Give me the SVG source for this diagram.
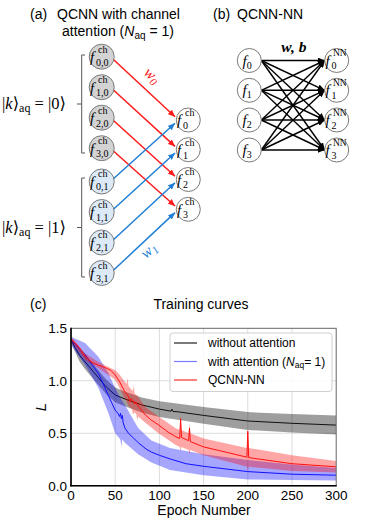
<svg xmlns="http://www.w3.org/2000/svg" width="374" height="521" viewBox="0 0 374 521">
<style>
.t{font-family:"Liberation Sans",Arial,sans-serif;fill:#000}
.m{font-family:"Liberation Serif","DejaVu Serif",serif;fill:#000}
.i{font-style:italic}
.ng{fill:#d3d3d3;stroke:#7a7a7a;stroke-width:1}
.nb{fill:#dce9f6;stroke:#7a7a7a;stroke-width:1}
.nw{fill:#fff;stroke:#7a7a7a;stroke-width:1}
.red{stroke:#ff1a1a;stroke-width:1.5;fill:none}
.blu{stroke:#1f7fd6;stroke-width:1.5;fill:none}
.blk{stroke:#000;stroke-width:1.4;fill:none}
.br{stroke:#555;stroke-width:1;fill:none}
.grid{stroke:#dcdcdc;stroke-width:1}
.tick{font-family:"Liberation Sans",Arial,sans-serif;font-size:13.5px;fill:#000}
</style>
<defs>
<marker id="ar" markerUnits="userSpaceOnUse" markerWidth="8" markerHeight="6" refX="7" refY="3" orient="auto"><path d="M0,0 L7,3 L0,6 z" fill="#ff1a1a"/></marker>
<marker id="ab" markerUnits="userSpaceOnUse" markerWidth="8" markerHeight="6" refX="7" refY="3" orient="auto"><path d="M0,0 L7,3 L0,6 z" fill="#1f7fd6"/></marker>
<marker id="ak" markerUnits="userSpaceOnUse" markerWidth="8" markerHeight="6" refX="7" refY="3" orient="auto"><path d="M0,0 L7,3 L0,6 z" fill="#000"/></marker>
<clipPath id="plot"><rect x="71" y="328.3" width="265.2" height="157.4"/></clipPath>
</defs>

<!-- Panel titles -->
<text class="t" x="30" y="19" font-size="14">(a)</text>
<text class="t" x="57" y="19" font-size="14">QCNN with channel</text>
<text class="t" x="62" y="36" font-size="14">attention (<tspan font-style="italic">N</tspan><tspan font-size="10" dy="3">aq</tspan><tspan dy="-3"> = 1)</tspan></text>
<text class="t" x="213" y="19" font-size="14">(b)</text>
<text class="t" x="237" y="19" font-size="14">QCNN-NN</text>

<!-- Brackets and group labels -->
<g id="group0">
<path class="br" d="M85,55 H81.7 V153 H85 M81.7,104 H77"/>
<text class="m" x="2" y="109" font-size="16.5">|<tspan font-style="italic">k</tspan>⟩<tspan font-size="12" dy="3">aq</tspan><tspan dy="-3"> = |0⟩</tspan></text>
</g>
<g id="group1">
<path class="br" d="M85,178 H81.7 V277 H85 M81.7,227.5 H77"/>
<text class="m" x="2" y="233" font-size="16.5">|<tspan font-style="italic">k</tspan>⟩<tspan font-size="12" dy="3">aq</tspan><tspan dy="-3"> = |1⟩</tspan></text>
</g>

<!-- Connectors -->
<g id="connectors">
<line class="red" x1="113.7" y1="59.7" x2="175" y2="116.7" marker-end="url(#ar)"/>
<line class="red" x1="113.7" y1="90.2" x2="175" y2="146.4" marker-end="url(#ar)"/>
<line class="red" x1="113.7" y1="120.7" x2="175" y2="176.2" marker-end="url(#ar)"/>
<line class="red" x1="113.7" y1="151.2" x2="175" y2="206" marker-end="url(#ar)"/>
<line class="blu" x1="113.7" y1="178.5" x2="175" y2="123.3" marker-end="url(#ab)"/>
<line class="blu" x1="113.7" y1="209" x2="175" y2="153" marker-end="url(#ab)"/>
<line class="blu" x1="113.7" y1="239.5" x2="175" y2="182.8" marker-end="url(#ab)"/>
<line class="blu" x1="113.7" y1="270" x2="175" y2="212.6" marker-end="url(#ab)"/>
<text class="m i" x="149" y="79" font-size="15.5" style="fill:#ff1a1a" text-anchor="middle" transform="rotate(42 149 79)">w<tspan font-size="11" dy="3">0</tspan></text>
<text class="m i" x="152" y="254" font-size="15.5" style="fill:#1f7fd6" text-anchor="middle" transform="rotate(-42 152 254)">w<tspan font-size="11" dy="3">1</tspan></text>
<!-- panel b -->
<g class="blk" marker-end="url(#ak)">
<line x1="261.3" y1="60.5" x2="324.7" y2="60.5"/>
<line x1="261.3" y1="60.5" x2="324.7" y2="90.3"/>
<line x1="261.3" y1="60.5" x2="324.7" y2="120"/>
<line x1="261.3" y1="60.5" x2="324.7" y2="150"/>
<line x1="261.3" y1="90.3" x2="324.7" y2="60.5"/>
<line x1="261.3" y1="90.3" x2="324.7" y2="90.3"/>
<line x1="261.3" y1="90.3" x2="324.7" y2="120"/>
<line x1="261.3" y1="90.3" x2="324.7" y2="150"/>
<line x1="261.3" y1="120" x2="324.7" y2="60.5"/>
<line x1="261.3" y1="120" x2="324.7" y2="90.3"/>
<line x1="261.3" y1="120" x2="324.7" y2="120"/>
<line x1="261.3" y1="120" x2="324.7" y2="150"/>
<line x1="261.3" y1="150" x2="324.7" y2="60.5"/>
<line x1="261.3" y1="150" x2="324.7" y2="90.3"/>
<line x1="261.3" y1="150" x2="324.7" y2="120"/>
<line x1="261.3" y1="150" x2="324.7" y2="150"/>
</g>
<text class="m" x="294" y="52" font-size="15.5" font-weight="bold" font-style="italic" text-anchor="middle">w, b</text>
</g>

<!-- Panel a nodes: left gray -->
<g id="f00"><circle class="ng" cx="101.7" cy="56.7" r="12.5"/><text class="m" x="90" y="62" font-size="15"><tspan font-style="italic">f</tspan></text><text class="m" x="98" y="52.5" font-size="10">ch</text><text class="m" x="96" y="65.5" font-size="10">0,0</text></g>
<g id="f10"><circle class="ng" cx="101.7" cy="87.2" r="12.5"/><text class="m" x="90" y="92.5" font-size="15"><tspan font-style="italic">f</tspan></text><text class="m" x="98" y="83" font-size="10">ch</text><text class="m" x="96" y="96" font-size="10">1,0</text></g>
<g id="f20"><circle class="ng" cx="101.7" cy="117.7" r="12.5"/><text class="m" x="90" y="123" font-size="15"><tspan font-style="italic">f</tspan></text><text class="m" x="98" y="113.5" font-size="10">ch</text><text class="m" x="96" y="126.5" font-size="10">2,0</text></g>
<g id="f30"><circle class="ng" cx="101.7" cy="148.2" r="12.5"/><text class="m" x="90" y="153.5" font-size="15"><tspan font-style="italic">f</tspan></text><text class="m" x="98" y="144" font-size="10">ch</text><text class="m" x="96" y="157" font-size="10">3,0</text></g>
<!-- left blue -->
<g id="f01"><circle class="nb" cx="101.7" cy="181.5" r="12.5"/><text class="m" x="90" y="186.8" font-size="15"><tspan font-style="italic">f</tspan></text><text class="m" x="98" y="177.3" font-size="10">ch</text><text class="m" x="96" y="190.3" font-size="10">0,1</text></g>
<g id="f11"><circle class="nb" cx="101.7" cy="212" r="12.5"/><text class="m" x="90" y="217.3" font-size="15"><tspan font-style="italic">f</tspan></text><text class="m" x="98" y="207.8" font-size="10">ch</text><text class="m" x="96" y="220.8" font-size="10">1,1</text></g>
<g id="f21"><circle class="nb" cx="101.7" cy="242.5" r="12.5"/><text class="m" x="90" y="247.8" font-size="15"><tspan font-style="italic">f</tspan></text><text class="m" x="98" y="238.3" font-size="10">ch</text><text class="m" x="96" y="251.3" font-size="10">2,1</text></g>
<g id="f31"><circle class="nb" cx="101.7" cy="273" r="12.5"/><text class="m" x="90" y="278.3" font-size="15"><tspan font-style="italic">f</tspan></text><text class="m" x="98" y="268.8" font-size="10">ch</text><text class="m" x="96" y="281.8" font-size="10">3,1</text></g>
<!-- right outputs -->
<g id="fc0"><circle class="nw" cx="188.3" cy="120" r="12"/><text class="m" x="177" y="125.3" font-size="15"><tspan font-style="italic">f</tspan></text><text class="m" x="185" y="115.8" font-size="10">ch</text><text class="m" x="183" y="128.8" font-size="10">0</text></g>
<g id="fc1"><circle class="nw" cx="188.3" cy="149.7" r="12"/><text class="m" x="177" y="155" font-size="15"><tspan font-style="italic">f</tspan></text><text class="m" x="185" y="145.5" font-size="10">ch</text><text class="m" x="183" y="158.5" font-size="10">1</text></g>
<g id="fc2"><circle class="nw" cx="188.3" cy="179.5" r="12"/><text class="m" x="177" y="184.8" font-size="15"><tspan font-style="italic">f</tspan></text><text class="m" x="185" y="175.3" font-size="10">ch</text><text class="m" x="183" y="188.3" font-size="10">2</text></g>
<g id="fc3"><circle class="nw" cx="188.3" cy="209.3" r="12"/><text class="m" x="177" y="214.6" font-size="15"><tspan font-style="italic">f</tspan></text><text class="m" x="185" y="205.1" font-size="10">ch</text><text class="m" x="183" y="218.1" font-size="10">3</text></g>

<!-- Panel b nodes -->
<g id="fb0"><circle class="nw" cx="249.3" cy="60.5" r="12"/><text class="m" x="242.5" y="65.5" font-size="15"><tspan font-style="italic">f</tspan><tspan font-size="10" dy="3">0</tspan></text></g>
<g id="fb1"><circle class="nw" cx="249.3" cy="90.3" r="12"/><text class="m" x="242.5" y="95.3" font-size="15"><tspan font-style="italic">f</tspan><tspan font-size="10" dy="3">1</tspan></text></g>
<g id="fb2"><circle class="nw" cx="249.3" cy="120" r="12"/><text class="m" x="242.5" y="125" font-size="15"><tspan font-style="italic">f</tspan><tspan font-size="10" dy="3">2</tspan></text></g>
<g id="fb3"><circle class="nw" cx="249.3" cy="150" r="12"/><text class="m" x="242.5" y="155" font-size="15"><tspan font-style="italic">f</tspan><tspan font-size="10" dy="3">3</tspan></text></g>
<g id="fn0"><circle class="nw" cx="336.7" cy="60.5" r="12"/><text class="m" x="325.5" y="65.5" font-size="15"><tspan font-style="italic">f</tspan></text><text class="m" x="333" y="56" font-size="9.5">NN</text><text class="m" x="331.5" y="69" font-size="10">0</text></g>
<g id="fn1"><circle class="nw" cx="336.7" cy="90.3" r="12"/><text class="m" x="325.5" y="95.3" font-size="15"><tspan font-style="italic">f</tspan></text><text class="m" x="333" y="85.8" font-size="9.5">NN</text><text class="m" x="331.5" y="98.8" font-size="10">1</text></g>
<g id="fn2"><circle class="nw" cx="336.7" cy="120" r="12"/><text class="m" x="325.5" y="125" font-size="15"><tspan font-style="italic">f</tspan></text><text class="m" x="333" y="115.5" font-size="9.5">NN</text><text class="m" x="331.5" y="128.5" font-size="10">2</text></g>
<g id="fn3"><circle class="nw" cx="336.7" cy="150" r="12"/><text class="m" x="325.5" y="155" font-size="15"><tspan font-style="italic">f</tspan></text><text class="m" x="333" y="145.5" font-size="9.5">NN</text><text class="m" x="331.5" y="158.5" font-size="10">3</text></g>

<!-- Panel c -->
<g id="chart">
<text class="t" x="30" y="309" font-size="14">(c)</text>
<text class="t" x="201" y="309" font-size="14" text-anchor="middle">Training curves</text>
<g class="grid">
<line x1="115.2" y1="328.3" x2="115.2" y2="485.7"/>
<line x1="159.4" y1="328.3" x2="159.4" y2="485.7"/>
<line x1="203.6" y1="328.3" x2="203.6" y2="485.7"/>
<line x1="247.8" y1="328.3" x2="247.8" y2="485.7"/>
<line x1="292" y1="328.3" x2="292" y2="485.7"/>
<line x1="71" y1="433.25" x2="336.2" y2="433.25"/>
<line x1="71" y1="380.8" x2="336.2" y2="380.8"/>
</g>
<g clip-path="url(#plot)">
<polygon fill="#000" fill-opacity="0.38" points="71,337.8 75.4,344.1 79.8,349.3 85.1,354.6 93.1,364 106.4,379.7 115.2,387.6 124,391.3 141.7,397.4 159.4,401.3 203.6,407 247.8,412.1 292,414.1 336.2,415.6 336.2,434.5 292,432.5 247.8,429.9 203.6,423.8 159.4,417 141.7,412.5 124,406 115.2,402.3 106.4,394.4 93.1,378.7 85.1,369.3 79.8,361.9 75.4,352.5 71,342"/>
<polyline fill="none" stroke="#111" stroke-width="1" points="71,339.9 75.4,348.3 79.8,355.6 85.1,361.9 88.7,366.1 93.1,371.4 98.4,377.7 106.4,387.1 115.2,395 124,398.6 132.9,401.8 141.7,404.9 159.4,409.1 171,411.2 172,409.2 173,411.5 177.1,411.7 203.6,415.4 247.8,421 292,423.3 336.2,425.1"/>
<polygon fill="#0000ff" fill-opacity="0.35" points="71,336.7 85.1,343 98.4,356.7 108.1,372.4 115.2,388.1 119.6,396.5 124.9,404.9 138.2,428 151.4,440.6 170,447.9 203.6,454.2 247.8,460 292,464.5 336.2,467.9 336.2,480.5 292,480 247.8,479.4 203.6,475.2 170,470 151.4,462.6 138.2,454.2 124.9,442.7 122.3,439.5 121.4,446.9 120.5,440 119.6,438.5 115.2,433.3 108.1,412.3 98.4,388.1 85.1,365.1 71,345.1"/>
<polyline fill="none" stroke="#1010ff" stroke-width="1" points="71,341 75.4,344.1 79.8,349.3 85.1,354.6 88.7,359.8 93.1,366.1 98.4,373.5 102.8,382.9 108.1,395 111.7,402.8 115.2,410.2 117.9,413.3 119.6,416.5 120.5,413.3 121.4,418.6 122.3,415.4 123.2,422.8 124.9,428 128.5,433.3 132.9,437.4 138.2,442.7 146.1,449 151.4,452.1 159.4,455.3 170,458.9 185.9,463.7 203.6,466.3 247.8,471.6 292,474.2 336.2,475.2"/>
<polygon fill="#ff0000" fill-opacity="0.35" points="71,336.7 85.1,353.5 98.4,361.9 115.2,370.3 119.6,374.5 124,380.8 126.7,383.9 127.6,377.7 128.5,386 132.9,391.3 133.8,385 134.6,393.4 137.3,395.5 145.3,407 158.5,416.5 175.3,428 179.7,430.1 180.6,415.4 181.5,430.1 188.6,433.3 189.5,422.8 190.3,433.3 203.6,438.5 246.9,447.9 247.8,428 248.7,447.9 292,455.3 336.2,461 336.2,472.6 292,471 248.7,466.8 247.8,471 246.9,466.8 203.6,455.3 190.3,450 189.5,454.2 188.6,450 181.5,446.9 180.6,451.1 179.7,446.9 175.3,444.8 158.5,433.3 145.3,422.8 138.2,416.5 137.3,420.7 136.4,414.4 134.6,412.3 132.9,414.4 132,409.1 128.5,406 125.8,399.7 124,397.6 119.6,388.1 115.2,379.8 98.4,368.2 85.1,359.8 71,341"/>
<polyline fill="none" stroke="#ff1010" stroke-width="1" points="71,338.9 75.4,343 79.8,348.3 85.1,356.7 88.7,359.8 93.1,363 98.4,365.1 106.4,368.2 110.8,370.3 115.2,375 119.6,381.8 124,390.2 128.5,396.5 130.2,401.8 131.1,398.6 132.9,400.7 134.6,403.9 135.5,401.8 137.3,404.9 145.3,414.9 150.6,419.6 158.5,424.9 168.2,432.2 175.3,436.4 179.7,438.5 180.6,418.6 181.5,437.4 185.9,439.5 188.6,440.6 189.5,428 190.3,441.6 203.6,446.9 225.7,452.1 246.9,457.2 247.8,431.2 248.7,457.6 292,463.7 336.2,466.8"/>
</g>
<rect x="71" y="328.3" width="265.2" height="157.4" fill="none" stroke="#666" stroke-width="1"/>
<line x1="71" y1="327.8" x2="71" y2="486.2" stroke="#000" stroke-width="1.6"/>
<line x1="70.2" y1="485.7" x2="336.7" y2="485.7" stroke="#000" stroke-width="1.6"/>
<!-- legend -->
<rect x="170" y="333" width="162" height="58.5" rx="3" fill="#fff" fill-opacity="0.85" stroke="#d0d0d0" stroke-width="1"/>
<line x1="174" y1="343" x2="197" y2="343" stroke="#222" stroke-width="1.2"/>
<line x1="174" y1="361.5" x2="197" y2="361.5" stroke="#7a7aff" stroke-width="1.2"/>
<line x1="174" y1="380" x2="197" y2="380" stroke="#ff3030" stroke-width="1.2"/>
<text class="t" x="208" y="347.3" font-size="12">without attention</text>
<text class="t" x="208" y="365.8" font-size="12">with attention (<tspan font-style="italic">N</tspan><tspan font-size="8.5" dy="2.5">aq</tspan><tspan dy="-2.5">= 1)</tspan></text>
<text class="t" x="208" y="384.3" font-size="12">QCNN-NN</text>
<!-- ticks -->
<text class="tick" x="67" y="333" text-anchor="end">1.5</text>
<text class="tick" x="67" y="385.6" text-anchor="end">1.0</text>
<text class="tick" x="67" y="438" text-anchor="end">0.5</text>
<text class="tick" x="67" y="490.5" text-anchor="end">0.0</text>
<text class="tick" x="71" y="500" text-anchor="middle">0</text>
<text class="tick" x="115.2" y="500" text-anchor="middle">50</text>
<text class="tick" x="159.4" y="500" text-anchor="middle">100</text>
<text class="tick" x="203.6" y="500" text-anchor="middle">150</text>
<text class="tick" x="247.8" y="500" text-anchor="middle">200</text>
<text class="tick" x="292" y="500" text-anchor="middle">250</text>
<text class="tick" x="336.2" y="500" text-anchor="middle">300</text>
<text class="t" x="204" y="515" font-size="14" text-anchor="middle">Epoch Number</text>
<text class="t" x="0" y="0" font-size="15" font-style="italic" text-anchor="middle" transform="translate(46 407) rotate(-90)">L</text>
</g>
</svg>
